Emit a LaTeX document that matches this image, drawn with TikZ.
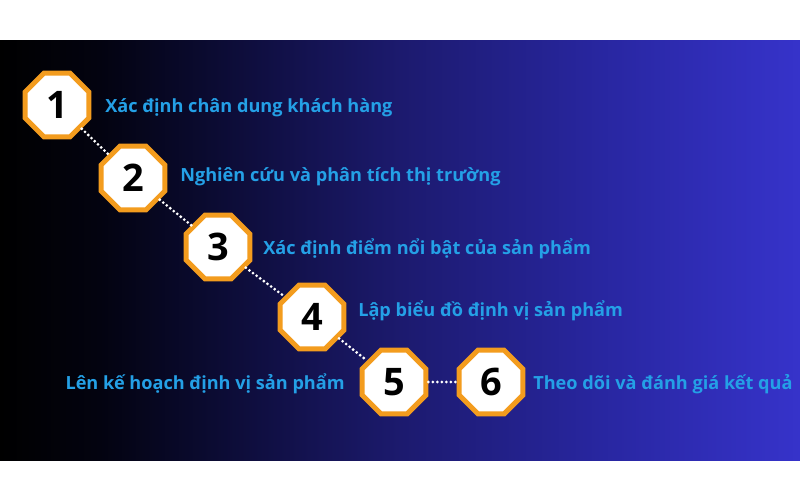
\documentclass[tikz,border=0pt]{standalone}
\usepackage{fontspec}
\setmainfont{Open Sans}
\usetikzlibrary{shapes.geometric}
\definecolor{orangeb}{RGB}{243,156,30}
\definecolor{labelc}{RGB}{36,160,230}
\pgfdeclarehorizontalshading{bgshade}{100bp}{color(0bp)=(black); color(25bp)=(black); color(31.25bp)=({rgb,255:red,3;green,3;blue,16}); color(37.5bp)=({rgb,255:red,10;green,10;blue,46}); color(50bp)=({rgb,255:red,28;green,26;blue,110}); color(62.5bp)=({rgb,255:red,40;green,38;blue,160}); color(75bp)=({rgb,255:red,54;green,51;blue,202}); color(100bp)=({rgb,255:red,54;green,51;blue,202})}
\begin{document}
\begin{tikzpicture}[x=0.025cm,y=-0.025cm,
  octo/.style={regular polygon, regular polygon sides=8, draw=orangeb, fill=white,
    line width=0.125cm, minimum size=1.72cm, inner sep=0pt,
    font=\fontsize{27}{27}\selectfont\bfseries, text=black},
  lbl/.style={text=labelc, font=\fontsize{12.9}{15}\selectfont\bfseries, inner sep=0pt},
  dots/.style={draw=white, line width=2.2pt, line cap=round, dash pattern=on 0pt off 3.2pt}]
\useasboundingbox (0,0) rectangle (800,500);
\fill[white] (0,0) rectangle (800,500);
\shade[shading=bgshade] (0,40) rectangle (800,460);
\node[octo] (n1) at (57,105) {1};
\node[octo] (n2) at (133,178) {2};
\node[octo] (n3) at (218,247) {3};
\node[octo] (n4) at (312,317) {4};
\node[octo] (n5) at (394,382) {5};
\node[octo] (n6) at (491,382) {6};
\draw[dots] (n1) -- (n2);
\draw[dots] (n2) -- (n3);
\draw[dots] (n3) -- (n4);
\draw[dots] (n4) -- (n5);
\draw[dots] (n5) -- (n6);
\node[lbl, anchor=west] (t1) at (105,108) {Xác định chân dung khách hàng};
\node[lbl, anchor=west] (t2) at (180,177) {Nghiên cứu và phân tích thị trường};
\node[lbl, anchor=west] (t3) at (263,249) {Xác định điểm nổi bật của sản phẩm};
\node[lbl, anchor=west] (t4) at (358,311) {Lập biểu đồ định vị sản phẩm};
\node[lbl, anchor=east] (t5) at (345,384) {Lên kế hoạch định vị sản phẩm};
\node[lbl, anchor=west] (t6) at (533,384) {Theo dõi và đánh giá kết quả};
\end{tikzpicture}
\end{document}
